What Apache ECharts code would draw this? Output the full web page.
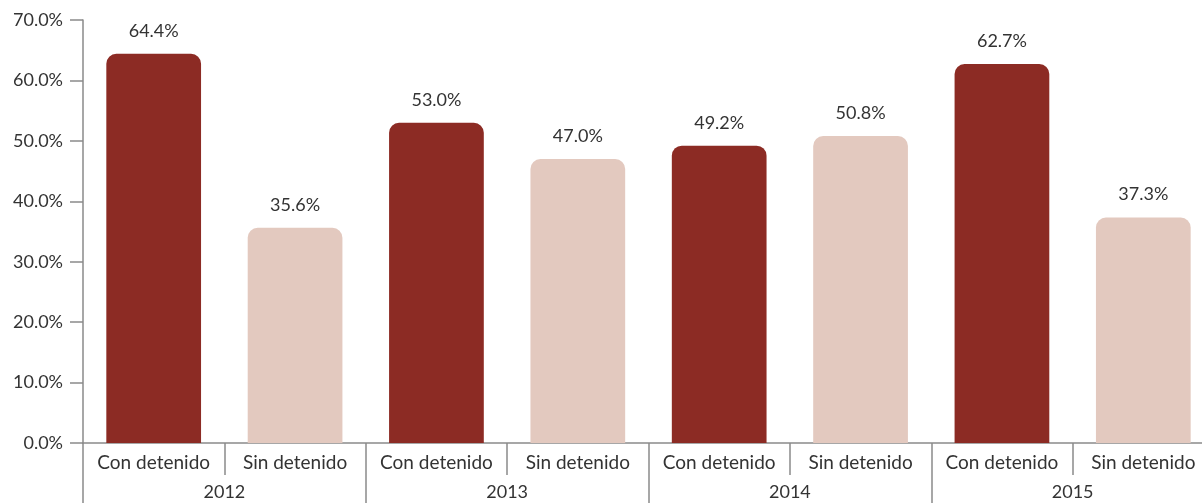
<!DOCTYPE html>
<html>
<head>
<meta charset="utf-8">
<script src="https://cdn.jsdelivr.net/npm/echarts@6/dist/echarts.min.js"></script>
<style>
  html, body { margin: 0; padding: 0; background: #fff; }
  #main { width: 1202px; height: 503px; }
</style>
</head>
<body>
<div id="main"></div>
<script>
// datos
var years = ["2012", "2013", "2014", "2015"];
var groups = ["Con detenido", "Sin detenido"];
var conDetenido = [64.4, 53.0, 49.2, 62.7];
var sinDetenido = [35.6, 47.0, 50.8, 37.3];
var yTicks = [0, 10, 20, 30, 40, 50, 60, 70];

var colors = ["#8c2b24", "#e3c9bf"];

// categorías: Con / Sin por cada año
var categories = [];
var values = [];
years.forEach(function (y, i) {
  categories.push(groups[0]);
  values.push({ value: conDetenido[i], itemStyle: { color: colors[0] } });
  categories.push(groups[1]);
  values.push({ value: sinDetenido[i], itemStyle: { color: colors[1] } });
});

var font = "Lato, 'DejaVu Sans', sans-serif";
var myChart = echarts.init(document.getElementById("main"));

var option = {
  animation: false,
  textStyle: { fontFamily: font, color: "#333" },
  // el área del gráfico sigue un poco más allá del borde derecho
  grid: { left: 83, right: -12, top: 20, bottom: 60, containLabel: false, outerBoundsMode: "none" },
  xAxis: [
    {
      type: "category",
      data: categories,
      axisLine: { lineStyle: { color: "#8a8a8a", width: 1.5 } },
      axisTick: { show: true, interval: 0, length: 32, lineStyle: { color: "#8a8a8a", width: 1.5 } },
      axisLabel: { interval: 0, fontSize: 19, color: "#333", margin: 10, fontFamily: font }
    },
    {
      type: "category",
      data: years,
      position: "bottom",
      axisLine: { show: false },
      axisTick: { show: true, interval: 0, length: 60, lineStyle: { color: "#8a8a8a", width: 1.5 } },
      axisLabel: { interval: 0, fontSize: 18, color: "#333", margin: 40, fontFamily: font }
    }
  ],
  yAxis: {
    type: "value",
    min: yTicks[0],
    max: yTicks[yTicks.length - 1],
    interval: 10,
    splitLine: { show: false },
    axisLine: { show: true, lineStyle: { color: "#8a8a8a", width: 1.5 } },
    axisTick: { show: true, length: 13, lineStyle: { color: "#8a8a8a", width: 1.5 } },
    axisLabel: {
      fontSize: 18,
      color: "#333",
      margin: 20,
      fontFamily: font,
      formatter: function (v) { return v.toFixed(1) + "%"; }
    }
  },
  series: [
    {
      type: "bar",
      xAxisIndex: 0,
      data: values,
      barWidth: "67%",
      itemStyle: { borderRadius: [10, 10, 0, 0] },
      label: {
        show: true,
        position: "top",
        distance: 14,
        fontSize: 18,
        color: "#333",
        fontFamily: font,
        formatter: function (p) { return p.value.toFixed(1) + "%"; }
      }
    }
  ]
};

option && myChart.setOption(option);
</script>
</body>
</html>
